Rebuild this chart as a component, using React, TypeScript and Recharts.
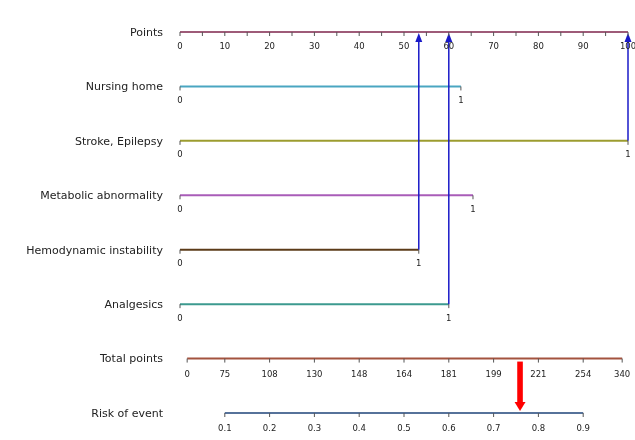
import React from 'react';
import { ComposedChart, XAxis, YAxis, Scatter, ReferenceLine } from 'recharts';

// Row names (top to bottom)
const rowNames = [
  'Points',
  'Nursing home',
  'Stroke, Epilepsy',
  'Metabolic abnormality',
  'Hemodynamic instability',
  'Analgesics',
  'Total points',
  'Risk of event',
];
const rowColors = ['#9e5b78', '#4aa6c1', '#9c9c2f', '#a95cb8', '#5b3b18', '#3c9a8f', '#a3533f', '#56729a'];

// Points scale
const pointsTicks = [0, 5, 10, 15, 20, 25, 30, 35, 40, 45, 50, 55, 60, 65, 70, 75, 80, 85, 90, 95, 100];

// Factor rows: points given to level "1" (level "0" = 0 points)
const factorRows = [1, 2, 3, 4, 5];
const factorMaxPoints = [62.7, 100, 65.4, 53.3, 60];
const factorLevels = ['0', '1'];

// Patient's selected factors (row indices) -> blue arrows
const selectedRows = [2, 4, 5];

// Total points scale (labels with their positions on the risk scale)
const totalPointsLabels = ['0', '75', '108', '130', '148', '164', '181', '199', '221', '254', '340'];
const totalPointsRiskPos = [0.016, 0.1, 0.2, 0.3, 0.4, 0.5, 0.6, 0.7, 0.8, 0.9, 0.987];

// Risk scale
const riskTicks = [0.1, 0.2, 0.3, 0.4, 0.5, 0.6, 0.7, 0.8, 0.9];
const predictedRisk = 0.759;

const FONT = 'DejaVu Sans, sans-serif';

const makeTick = (dy: number) => (props: any) => {
  const { cx, cy, payload } = props;
  if (cx == null || cy == null) return <g />;
  return (
    <g>
      <line x1={cx} y1={cy} x2={cx} y2={cy + 4} stroke="#555" strokeWidth={1} />
      {payload.label ? (
        <text x={cx} y={cy + dy} textAnchor="middle" fontSize={8.5} fontFamily={FONT} fill="#222">
          {payload.label}
        </text>
      ) : null}
    </g>
  );
};

const BlueArrow = (p: any) => {
  const { x1, y1, y2 } = p;
  const tip = Math.min(y1, y2) + 1;
  const base = Math.max(y1, y2);
  return (
    <g>
      <line x1={x1} y1={base} x2={x1} y2={tip + 6} stroke="#1a1ac8" strokeWidth={1.5} />
      <polygon points={`${x1},${tip} ${x1 - 3.5},${tip + 9} ${x1 + 3.5},${tip + 9}`} fill="#1a1ac8" />
    </g>
  );
};

const RedArrow = (p: any) => {
  const { x1, y1, y2 } = p;
  const top = Math.min(y1, y2) + 3;
  const bottom = Math.max(y1, y2) - 2;
  return (
    <g>
      <rect x={x1 - 2.8} y={top} width={5.6} height={bottom - top - 8} fill="#ff0000" />
      <polygon points={`${x1},${bottom} ${x1 - 5.5},${bottom - 9} ${x1 + 5.5},${bottom - 9}`} fill="#ff0000" />
    </g>
  );
};

const pointsData = pointsTicks.map((v) => ({ x: v, y: 0, label: v % 10 === 0 ? String(v) : '' }));
const factorData = factorRows.map((r, i) => [
  { x: 0, y: r, label: factorLevels[0] },
  { x: factorMaxPoints[i], y: r, label: factorLevels[1] },
]);
const totalData = totalPointsLabels.map((l, i) => ({ x: totalPointsRiskPos[i], y: 6, label: l }));
const riskData = riskTicks.map((v) => ({ x: v, y: 7, label: String(v) }));

// plot area runs to the page edge; 100 points sit 7px before it
const ptsDomainMax = 101.5625;
const riskDomainMax = 1.015625;

export default function App() {
  return (
    <div style={{ position: 'fixed', left: 0, top: 0, width: 635, height: 440, overflow: 'visible' }}>
      <style>{'html,body{overflow:hidden}'}</style>
      <ComposedChart width={635} height={440} margin={{ top: 32, right: 0, bottom: 27, left: 0 }}>
        <XAxis xAxisId="pts" dataKey="x" type="number" domain={[0, ptsDomainMax]} hide />
        <XAxis xAxisId="risk" dataKey="x" type="number" domain={[0, riskDomainMax]} hide />
        <YAxis
          dataKey="y"
          type="number"
          domain={[0, 7]}
          reversed
          ticks={[0, 1, 2, 3, 4, 5, 6, 7]}
          interval={0}
          width={180}
          axisLine={false}
          tickLine={false}
          tickSize={0}
          tickMargin={17}
          tickFormatter={(v: number) => rowNames[v]}
          tick={{ fontSize: 11, fontFamily: FONT, fill: '#222' }}
        />

        {/* axis lines */}
        <ReferenceLine xAxisId="pts" segment={[{ x: 0, y: 0 }, { x: 100, y: 0 }]} stroke={rowColors[0]} strokeWidth={2} />
        {factorRows.map((r, i) => (
          <ReferenceLine
            key={'fl' + r}
            xAxisId="pts"
            segment={[{ x: 0, y: r }, { x: factorMaxPoints[i], y: r }]}
            stroke={rowColors[r]}
            strokeWidth={2}
          />
        ))}
        <ReferenceLine
          xAxisId="risk"
          segment={[{ x: totalPointsRiskPos[0], y: 6 }, { x: totalPointsRiskPos[totalPointsRiskPos.length - 1], y: 6 }]}
          stroke={rowColors[6]}
          strokeWidth={2}
        />
        <ReferenceLine
          xAxisId="risk"
          segment={[{ x: riskTicks[0], y: 7 }, { x: riskTicks[riskTicks.length - 1], y: 7 }]}
          stroke={rowColors[7]}
          strokeWidth={2}
        />

        {/* ticks & labels */}
        <Scatter xAxisId="pts" data={pointsData} shape={makeTick(17)} isAnimationActive={false} />
        {factorData.map((d, i) => (
          <Scatter key={'ft' + i} xAxisId="pts" data={d} shape={makeTick(16.5)} isAnimationActive={false} />
        ))}
        <Scatter xAxisId="risk" data={totalData} shape={makeTick(18.5)} isAnimationActive={false} />
        <Scatter xAxisId="risk" data={riskData} shape={makeTick(18)} isAnimationActive={false} />

        {/* arrows */}
        {selectedRows.map((r) => (
          <ReferenceLine
            key={'ar' + r}
            xAxisId="pts"
            segment={[{ x: factorMaxPoints[r - 1], y: r }, { x: factorMaxPoints[r - 1], y: 0 }]}
            shape={BlueArrow}
          />
        ))}
        <ReferenceLine
          xAxisId="risk"
          segment={[{ x: predictedRisk, y: 6 }, { x: predictedRisk, y: 7 }]}
          shape={RedArrow}
        />
      </ComposedChart>
    </div>
  );
}
